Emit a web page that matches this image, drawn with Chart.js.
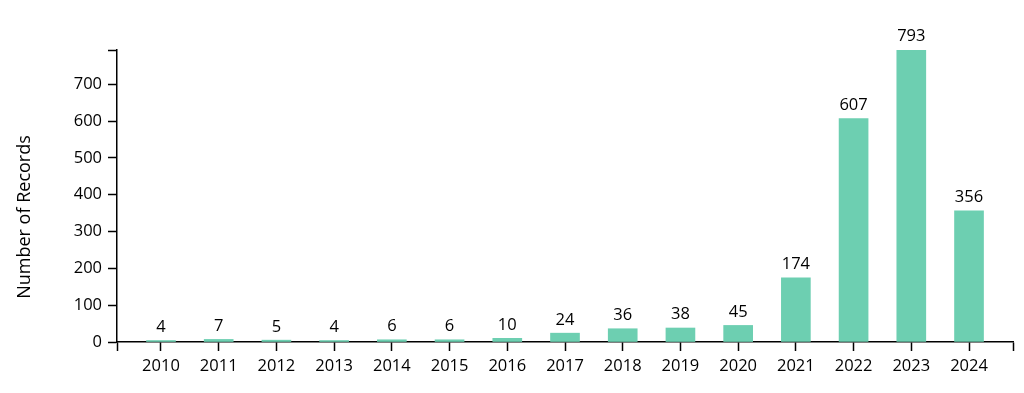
<!DOCTYPE html>
<html>
<head>
<meta charset="utf-8">
<script src="https://cdn.jsdelivr.net/npm/chart.js@4"></script>
<style>
  html, body { margin: 0; padding: 0; background: #fff; }
  #wrap { width: 1024px; height: 393px; position: relative; }
</style>
</head>
<body>
<div id="wrap"><canvas id="chart"></canvas></div>
<script>
const years = ['2010', '2011', '2012', '2013', '2014', '2015', '2016', '2017',
  '2018', '2019', '2020', '2021', '2022', '2023', '2024'];
const records = [4, 7, 5, 4, 6, 6, 10, 24, 36, 38, 45, 174, 607, 793, 356];
const yTicks = [0, 100, 200, 300, 400, 500, 600, 700];
const yTitle = 'Number of Records';

const FONT = "'Open Sans', sans-serif";
const barColor = '#6dcfb1';
const maxVal = Math.max(...records);
// band padding like a d3 band scale (outer padding ~0.76 step from the ends)
const edge = 0.762;

// numbers above each bar
const valueLabels = {
  id: 'valueLabels',
  afterDatasetsDraw(chart) {
    const ctx = chart.ctx;
    const meta = chart.getDatasetMeta(0);
    ctx.save();
    ctx.font = '16.5px ' + FONT;
    ctx.fillStyle = '#000';
    ctx.textAlign = 'center';
    ctx.textBaseline = 'bottom';
    meta.data.forEach((bar, i) => {
      const p = bar.getProps(['x', 'y'], true);
      ctx.fillText(String(records[i]), p.x, p.y - 5);
    });
    ctx.restore();
  }
};

// y axis title, drawn a bit below the vertical middle as in the original
const axisTitle = {
  id: 'axisTitle',
  afterDraw(chart) {
    const ctx = chart.ctx;
    ctx.save();
    ctx.translate(25, 217);
    ctx.rotate(-Math.PI / 2);
    ctx.font = '18px ' + FONT;
    ctx.fillStyle = '#000';
    ctx.textAlign = 'center';
    ctx.textBaseline = 'middle';
    ctx.fillText(yTitle, 0, 0);
    ctx.restore();
  }
};

new Chart(document.getElementById('chart'), {
  type: 'bar',
  data: {
    datasets: [{
      data: records.map((v, i) => ({ x: i, y: v })),
      backgroundColor: barColor,
      borderWidth: 0,
      barThickness: 29
    }]
  },
  options: {
    responsive: true,
    maintainAspectRatio: false,
    animation: false,
    layout: { padding: { top: 50, right: 11, left: 0, bottom: 0 } },
    plugins: {
      legend: { display: false },
      tooltip: { enabled: false }
    },
    scales: {
      x: {
        type: 'linear',
        offset: false,
        min: -edge,
        max: years.length - 1 + edge,
        afterBuildTicks(axis) {
          axis.ticks = [{ value: -edge }]
            .concat(years.map((y, i) => ({ value: i })))
            .concat([{ value: years.length - 1 + edge }]);
        },
        afterFit(axis) { axis.height = 51; },
        ticks: {
          autoSkip: false,
          maxRotation: 0,
          padding: 5,
          color: '#000',
          font: { family: FONT, size: 16.5 },
          callback: (v) => (Number.isInteger(v) ? years[v] : '')
        },
        grid: {
          offset: false,
          drawOnChartArea: false,
          drawTicks: true,
          tickLength: 9,
          tickWidth: 1.5,
          color: '#000'
        },
        border: { display: true, color: '#000', width: 1.5 }
      },
      y: {
        min: 0,
        max: maxVal,
        afterBuildTicks(axis) {
          axis.ticks = yTicks.map(v => ({ value: v })).concat([{ value: maxVal }]);
        },
        afterFit(axis) { axis.width = 117; },
        ticks: {
          padding: 6,
          color: '#000',
          font: { family: FONT, size: 16.5 },
          callback: (v) => (yTicks.includes(v) ? String(v) : '')
        },
        grid: {
          drawOnChartArea: false,
          drawTicks: true,
          tickLength: 9,
          tickWidth: 1.5,
          color: '#000'
        },
        border: { display: true, color: '#000', width: 1.5 }
      }
    }
  },
  plugins: [valueLabels, axisTitle]
});
</script>
</body>
</html>
